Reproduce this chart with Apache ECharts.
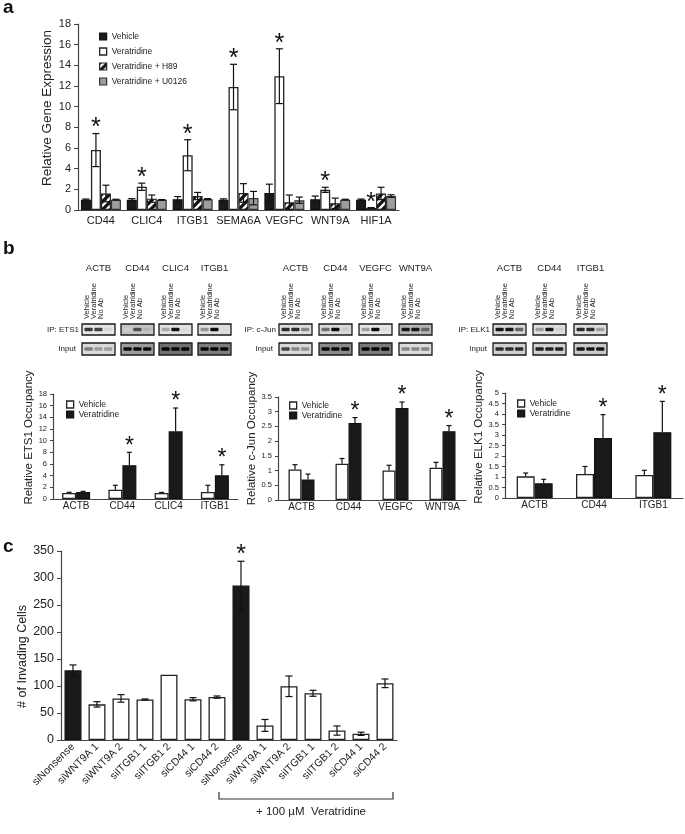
<!DOCTYPE html>
<html><head><meta charset="utf-8">
<script src="https://cdn.jsdelivr.net/npm/echarts@6/dist/echarts.min.js"></script>
<style>html,body{margin:0;padding:0;background:#fff}#c{width:685px;height:834px}</style>
</head><body><div id="c"></div>
<script>
// ---------- Panel a ----------
const aCategories = ['CD44','CLIC4','ITGB1','SEMA6A','VEGFC','WNT9A','HIF1A'];
const aSeriesNames = ['Vehicle','Veratridine','Veratridine + H89','Veratridine + U0126'];
const aVehicle = [1.0,1.0,1.05,1.0,1.65,1.05,1.0];
const aVehicleErr = [0.06,0.1,0.25,0.08,0.85,0.3,0.06];
const aVeratridine = [5.8,2.25,5.3,11.9,12.95,1.95,0.2];
const aVeratridineErr = [1.6,0.35,1.5,2.2,2.65,0.25,0.03];
const aH89 = [1.6,1.1,1.35,1.65,0.75,0.65,1.6];
const aH89Err = [0.8,0.35,0.35,0.9,0.7,0.5,0.6];
const aU0126 = [1.0,0.98,1.05,1.15,0.95,1.0,1.35];
const aU0126Err = [0.04,0.03,0.05,0.65,0.3,0.04,0.12];
const aStars = [1,1,1,1,1,1,1];
const aTicks = {min:0, max:18, interval:2};

// ---------- Panel b ----------
const bSeriesNames = ['Vehicle','Veratridine'];
const ets1Categories = ['ACTB','CD44','CLIC4','ITGB1'];
const ets1Vehicle = [1.03,1.6,1.03,1.2];
const ets1VehicleErr = [0.12,0.75,0.1,1.15];
const ets1Veratridine = [1.2,5.8,11.6,4.06];
const ets1VeratridineErr = [0.12,2.2,4.0,1.8];
const ets1Stars = [0,1,1,1];
const ets1Ticks = {min:0, max:18, interval:2};

const cjunCategories = ['ACTB','CD44','VEGFC','WNT9A'];
const cjunVehicle = [1.04,1.23,1.0,1.1];
const cjunVehicleErr = [0.16,0.18,0.18,0.18];
const cjunVeratridine = [0.7,2.62,3.13,2.34];
const cjunVeratridineErr = [0.18,0.18,0.2,0.19];
const cjunStars = [0,1,1,1];
const cjunTicks = {min:0, max:3.5, interval:0.5};

const elk1Categories = ['ACTB','CD44','ITGB1'];
const elk1Vehicle = [1.03,1.14,1.1];
const elk1VehicleErr = [0.16,0.36,0.22];
const elk1Veratridine = [0.7,2.86,3.13];
const elk1VeratridineErr = [0.19,1.11,1.47];
const elk1Stars = [0,1,1];
const elk1Ticks = {min:0, max:5, interval:0.5};

// ---------- Panel c ----------
const cCategories = ['siNonsense','siWNT9A 1','siWNT9A 2','siITGB1 1','siITGB1 2','siCD44 1','siCD44 2',
                     'siNonsense','siWNT9A 1','siWNT9A 2','siITGB1 1','siITGB1 2','siCD44 1','siCD44 2'];
const cValues = [129,66,77,75,121,75.5,79.5,286,27,99.5,86.5,17.5,11.5,105];
const cErrors = [10,5,7,1,0,3,2,45,11,19,5.5,8.5,3,8];
const cControl = [1,0,0,0,0,0,0,1,0,0,0,0,0,0];
const cStars = [0,0,0,0,0,0,0,1,0,0,0,0,0,0];
const cTicks = {min:0, max:350, interval:50};

// ---------- Blot decorations ----------
const sampleLabels = ['Vehicle','Veratridine','No Ab'];
const blotGroups = [
  {ip:'IP: ETS1', genes:['ACTB','CD44','CLIC4','ITGB1'], x:[82,121,159,198],
   ipBg:['#e6e6e6','#c4c4c4','#e2e2e2','#dedede'],
   ipBands:[[0.75,0.7,0.05],[0.1,0.65,0.2],[0.25,0.92,0.03],[0.35,0.95,0.03]],
   inBg:['#dadada','#9c9c9c','#707070','#7c7c7c'],
   inBands:[[0.45,0.3,0.3],[0.95,0.95,0.95],[0.97,0.97,0.97],[0.97,0.97,0.97]]},
  {ip:'IP: c-Jun', genes:['ACTB','CD44','VEGFC','WNT9A'], x:[279,319,359,399],
   ipBg:['#dedede','#d8d8d8','#e6e6e6','#b4b4b4'],
   ipBands:[[0.8,0.8,0.4],[0.5,0.95,0.1],[0.3,0.95,0.03],[0.9,0.9,0.55]],
   inBg:['#d8d8d8','#8a8a8a','#7a7a7a','#dcdcdc'],
   inBands:[[0.7,0.4,0.35],[0.95,0.95,0.95],[0.97,0.97,0.97],[0.4,0.4,0.4]]},
  {ip:'IP: ELK1', genes:['ACTB','CD44','ITGB1'], x:[493,533,574],
   ipBg:['#d6d6d6','#dedede','#dedede'],
   ipBands:[[0.9,0.9,0.55],[0.3,0.9,0.08],[0.8,0.8,0.3]],
   inBg:['#cfcfcf','#cfcfcf','#c8c8c8'],
   inBands:[[0.8,0.8,0.8],[0.85,0.85,0.85],[0.9,0.9,0.9]]}
];

const FONT = 'Liberation Sans, Arial, Helvetica, sans-serif';
const TXT = '#222';
const AX = '#444';

// hatch pattern for H89
const hatch = document.createElement('canvas');
hatch.width = 8; hatch.height = 8;
(function(){
  const g = hatch.getContext('2d');
  g.fillStyle = '#fff'; g.fillRect(0,0,8,8);
  g.strokeStyle = '#111'; g.lineWidth = 3.2;
  g.beginPath();
  g.moveTo(-2,10); g.lineTo(10,-2);
  g.moveTo(-6,6); g.lineTo(6,-6);
  g.moveTo(2,14); g.lineTo(14,2);
  g.stroke();
})();
const hatchColor = {image: hatch, repeat: 'repeat'};

const chart = echarts.init(document.getElementById('c'), null, {renderer:'canvas'});

const grids = [
  {left:78, top:24, width:321, height:186},
  {left:53, top:394, width:185, height:105},
  {left:278, top:397, width:188, height:103},
  {left:505, top:393, width:178, height:105},
  {left:61, top:551, width:336, height:189}
];

function xAx(gi, cats, fs, margin, rotate) {
  return {type:'category', gridIndex:gi, data:cats,
    axisLine:{show:true, lineStyle:{color:AX, width:1.2}},
    axisTick:{show:false},
    axisLabel:{interval:0, fontSize:fs, color:TXT, fontFamily:FONT, margin:margin, rotate:rotate||0}};
}
function yAx(gi, t, fs, name, nfs, gap, tickLen, pad) {
  return {type:'value', gridIndex:gi, min:t.min, max:t.max, interval:t.interval,
    name:name, nameLocation:'middle', nameGap:gap,
    nameTextStyle:{fontSize:nfs, color:TXT, fontFamily:FONT, padding:pad},
    axisLine:{show:true, lineStyle:{color:AX, width:1.2}},
    axisTick:{show:true, length:tickLen, lineStyle:{color:AX}},
    splitLine:{show:false},
    axisLabel:{fontSize:fs, color:TXT, fontFamily:FONT, margin:tickLen+3}};
}

const styles = {
  black:{color:'#1a1a1a', borderColor:'#111', borderWidth:1.2},
  white:{color:'#ffffff', borderColor:'#222', borderWidth:1.3},
  hatch:{color:hatchColor, borderColor:'#222', borderWidth:1.2},
  gray:{color:'#9d9d9d', borderColor:'#333', borderWidth:1.2}
};

function barSeries(name, gi, values, style, bw) {
  return {type:'bar', name:name, xAxisIndex:gi, yAxisIndex:gi, data:values,
    barWidth:bw, barGap:'0%', itemStyle:style, silent:true, z:2};
}

function errSeries(gi, values, errs, stars, idx, n, bw, both, cap, starSize, starGap) {
  return {type:'custom', xAxisIndex:gi, yAxisIndex:gi, silent:true, z:5,
    data: values.map((v,i)=>[i, v, errs[i], stars ? stars[i] : 0]),
    renderItem: function(params, api) {
      const i = api.value(0), v = api.value(1), e = api.value(2), s = api.value(3);
      const base = api.coord([i, v]);
      const x = base[0] + (idx - (n-1)/2) * bw;
      const yTop = api.coord([i, v + e])[1];
      const yBot = both ? api.coord([i, Math.max(v - e, 0)])[1] : base[1];
      const st = {stroke:'#111', lineWidth:1.2};
      const ch = [];
      if (e > 0) {
        ch.push({type:'line', shape:{x1:x, y1:yBot, x2:x, y2:yTop}, style:st});
        ch.push({type:'line', shape:{x1:x-cap, y1:yTop, x2:x+cap, y2:yTop}, style:st});
        if (both) ch.push({type:'line', shape:{x1:x-cap, y1:yBot, x2:x+cap, y2:yBot}, style:st});
      }
      if (s) ch.push({type:'text', x:x, y:yTop - starGap,
        style:{text:'*', fontSize:starSize, fontFamily:FONT, fill:'#111', align:'center', verticalAlign:'middle', textAlign:'center', textVerticalAlign:'middle'}});
      return {type:'group', children:ch};
    }};
}

const series = [];
// panel a
const aVals = [aVehicle, aVeratridine, aH89, aU0126];
const aErrs = [aVehicleErr, aVeratridineErr, aH89Err, aU0126Err];
const aSty = [styles.black, styles.white, styles.hatch, styles.gray];
aVals.forEach((v,k)=>series.push(barSeries(aSeriesNames[k], 0, v, aSty[k], 10)));
aVals.forEach((v,k)=>series.push(errSeries(0, v, aErrs[k], k===1 ? aStars : null, k, 4, 10, true, 3.5, 25, 5)));
// panel b
const bSets = [
  [1, ets1Vehicle, ets1VehicleErr, ets1Veratridine, ets1VeratridineErr, ets1Stars, 14],
  [2, cjunVehicle, cjunVehicleErr, cjunVeratridine, cjunVeratridineErr, cjunStars, 13],
  [3, elk1Vehicle, elk1VehicleErr, elk1Veratridine, elk1VeratridineErr, elk1Stars, 18]
];
bSets.forEach(b=>{
  const [gi, veh, vehE, ver, verE, st, bw] = b;
  series.push(barSeries(bSeriesNames[0], gi, veh, styles.white, bw));
  series.push(barSeries(bSeriesNames[1], gi, ver, styles.black, bw));
  series.push(errSeries(gi, veh, vehE, null, 0, 2, bw, false, 2.5, 23, 6));
  series.push(errSeries(gi, ver, verE, st, 1, 2, bw, false, 2.5, 23, 6));
});
// panel c
series.push({type:'bar', name:'Invading cells', xAxisIndex:4, yAxisIndex:4, barWidth:17, silent:true, z:2,
  data: cValues.map((v,i)=>({value:v, itemStyle: cControl[i] ? styles.black : styles.white}))});
series.push(errSeries(4, cValues, cErrors, cStars, 0, 1, 0, true, 3.5, 25, 6));

// graphics
const G = [];
function txt(x, y, text, fs, opt) {
  opt = opt || {};
  G.push({type:'text', x:x, y:y, rotation:opt.rot||0, silent:true,
    style:{text:text, fontSize:fs, fontFamily:FONT, fontWeight:opt.bold?'bold':'normal', fill:opt.fill||TXT,
      align:opt.align||'center', verticalAlign:opt.va||'middle',
      textAlign:opt.align||'center', textVerticalAlign:opt.va||'middle'}});
}
txt(3, 17, 'a', 19, {bold:true, align:'left', va:'bottom', fill:'#111'});
txt(3, 258, 'b', 19, {bold:true, align:'left', va:'bottom', fill:'#111'});
txt(3, 556, 'c', 19, {bold:true, align:'left', va:'bottom', fill:'#111'});

const BW = 33, IPY = 324, IPH = 11, INY = 343, INH = 12;
function bandCol(i){ const g = Math.round(225*(1-i)); return 'rgb('+g+','+g+','+g+')'; }
blotGroups.forEach(gr=>{
  txt(gr.x[0]-3, IPY+IPH/2, gr.ip, 8, {align:'right'});
  txt(gr.x[0]-6, INY+INH/2, 'Input', 8, {align:'right'});
  gr.x.forEach((x0,j)=>{
    txt(x0+BW/2, 268, gr.genes[j], 9.5);
    sampleLabels.forEach((s,k)=>txt(x0+5+k*7, 319, s, 7.5, {rot:Math.PI/2, align:'left'}));
    [[IPY,IPH,gr.ipBg[j],gr.ipBands[j]],[INY,INH,gr.inBg[j],gr.inBands[j]]].forEach(r=>{
      G.push({type:'rect', silent:true, shape:{x:x0, y:r[0], width:BW, height:r[1]},
        style:{fill:r[2], stroke:'#1a1a1a', lineWidth:1.3}});
      r[3].forEach((b,k)=>{
        G.push({type:'rect', silent:true, shape:{x:x0+2.5+k*9.8, y:r[0]+r[1]/2-1.8, width:8.2, height:3.6, r:1},
          style:{fill:bandCol(b)}});
      });
    });
  });
});

// bracket for panel c
G.push({type:'polyline', silent:true, shape:{points:[[219,792],[219,799],[393,799],[393,792]]},
  style:{stroke:'#333', lineWidth:1.2, fill:null}});
txt(311, 812, '+ 100 \u00B5M  Veratridine', 11.5);

const legendText = {fontSize:8.5, color:TXT, fontFamily:FONT};
const option = {
  animation:false,
  backgroundColor:'#fff',
  textStyle:{fontFamily:FONT},
  grid:grids,
  xAxis:[
    xAx(0, aCategories, 11, 5),
    xAx(1, ets1Categories, 10, 2),
    xAx(2, cjunCategories, 10, 2),
    xAx(3, elk1Categories, 10, 2),
    xAx(4, cCategories, 10.5, 5, 45)
  ],
  yAxis:[
    yAx(0, aTicks, 11, 'Relative Gene Expression', 13.5, 24, 4, [0,0,0,18]),
    yAx(1, ets1Ticks, 7.5, 'Relative ETS1 Occupancy', 11.5, 15, 3, [0,0,0,18]),
    yAx(2, cjunTicks, 7.5, 'Relative c-Jun Occupancy', 11.5, 13, 3, [0,0,0,20]),
    yAx(3, elk1Ticks, 7.5, 'Relative ELK1 Occupancy', 11.5, 15, 3, [0,0,0,17]),
    yAx(4, cTicks, 12.5, '# of Invading Cells', 12.5, 32, 4, [0,22,0,0])
  ],
  legend:[
    {left:94, top:27, orient:'vertical', icon:'rect', itemWidth:7, itemHeight:7, itemGap:6, selectedMode:false,
     textStyle:legendText, data:aSeriesNames.map((n,k)=>({name:n, itemStyle:aSty[k]}))},
    {left:61, top:395, orient:'vertical', icon:'rect', itemWidth:7, itemHeight:7, itemGap:1, selectedMode:false,
     textStyle:legendText, data:[{name:'Vehicle', itemStyle:styles.white},{name:'Veratridine', itemStyle:styles.black}]},
    {left:284, top:396, orient:'vertical', icon:'rect', itemWidth:7, itemHeight:7, itemGap:1, selectedMode:false,
     textStyle:legendText, data:[{name:'Vehicle', itemStyle:styles.white},{name:'Veratridine', itemStyle:styles.black}]},
    {left:512, top:394, orient:'vertical', icon:'rect', itemWidth:7, itemHeight:7, itemGap:1, selectedMode:false,
     textStyle:legendText, data:[{name:'Vehicle', itemStyle:styles.white},{name:'Veratridine', itemStyle:styles.black}]}
  ],
  series:series,
  graphic:{elements:G}
};
chart.setOption(option);
</script></body></html>
